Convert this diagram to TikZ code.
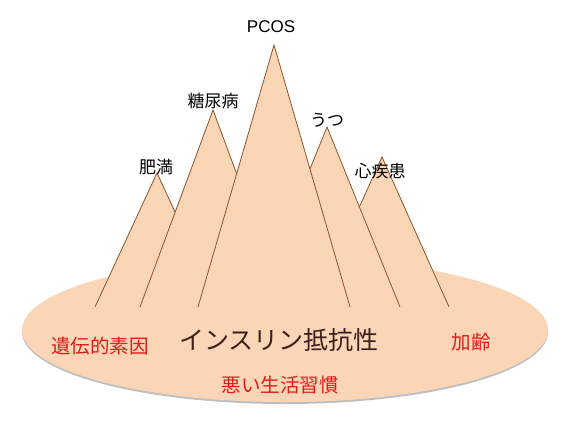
\documentclass[tikz,border=0pt]{standalone}
\usepackage{fontspec}
\newfontfamily\jpfont{Noto Sans CJK JP}
\newfontfamily\pcosfont{Liberation Sans}
\usepackage{tikz}

\definecolor{peach}{RGB}{251,214,182}
\definecolor{ridge}{RGB}{140,82,40}
\definecolor{factorred}{RGB}{226,28,28}
\definecolor{maintext}{RGB}{62,30,30}

\begin{document}
\begin{tikzpicture}[
    x=1pt, y=-1pt,
    % Hegyek kitöltése és oldalvonalai
    mountain/.style={fill=peach, draw=ridge, line width=0.8pt},
    % Feliratok
    peaklabel/.style={font=\jpfont\fontsize{17}{17}\selectfont, inner sep=0pt},
    factor/.style={text=factorred, font=\jpfont\fontsize{19.5}{19.5}\selectfont, inner sep=0pt}
]
    \useasboundingbox (0,0) rectangle (564,421);

    % Alap ellipszis halvány árnyékkal
    \fill[black!25] (285,332) ellipse [x radius=263, y radius=72];
    \fill[peach] (285,330) ellipse [x radius=263, y radius=72];

    % Csúcsok és talppontok definiálása
    \coordinate (obTop) at (157,173);
    \coordinate (obL) at (95,307);
    \coordinate (obR) at (219,307);
    \coordinate (diTop) at (213,110);
    \coordinate (diL) at (140,307);
    \coordinate (diR) at (286,307);
    \coordinate (heTop) at (382,157);
    \coordinate (heL) at (314,307);
    \coordinate (heR) at (449,307);
    \coordinate (deTop) at (327,127);
    \coordinate (deL) at (254,307);
    \coordinate (deR) at (400,307);
    \coordinate (pcTop) at (274,45);
    \coordinate (pcL) at (198,307);
    \coordinate (pcR) at (350,307);

    % Hegyek hátulról előre
    \filldraw[mountain] (obL) -- (obTop) -- (obR);
    \filldraw[mountain] (diL) -- (diTop) -- (diR);
    \filldraw[mountain] (heL) -- (heTop) -- (heR);
    \filldraw[mountain] (deL) -- (deTop) -- (deR);
    \filldraw[mountain] (pcL) -- (pcTop) -- (pcR);

    % Csúcsfeliratok
    \node[font=\pcosfont\fontsize{17}{17}\selectfont, inner sep=0pt] (pcos) at (271,27) {PCOS};
    \node[peaklabel] (diabetes) at (213,101) {糖尿病};
    \node[peaklabel] (obesity) at (156,167) {肥満};
    \node[peaklabel] (depression) at (327,120) {うつ};
    \node[peaklabel] (heart) at (380,171) {心疾患};

    % Alap feliratai
    \node[text=maintext, font=\jpfont\fontsize{25}{25}\selectfont, inner sep=0pt] (insulin) at (279,340) {インスリン抵抗性};
    \node[factor] (genetic) at (100,346) {遺伝的素因};
    \node[factor] (aging) at (471,342) {加齢};
    \node[factor] (lifestyle) at (280,385) {悪い生活習慣};
\end{tikzpicture}
\end{document}
